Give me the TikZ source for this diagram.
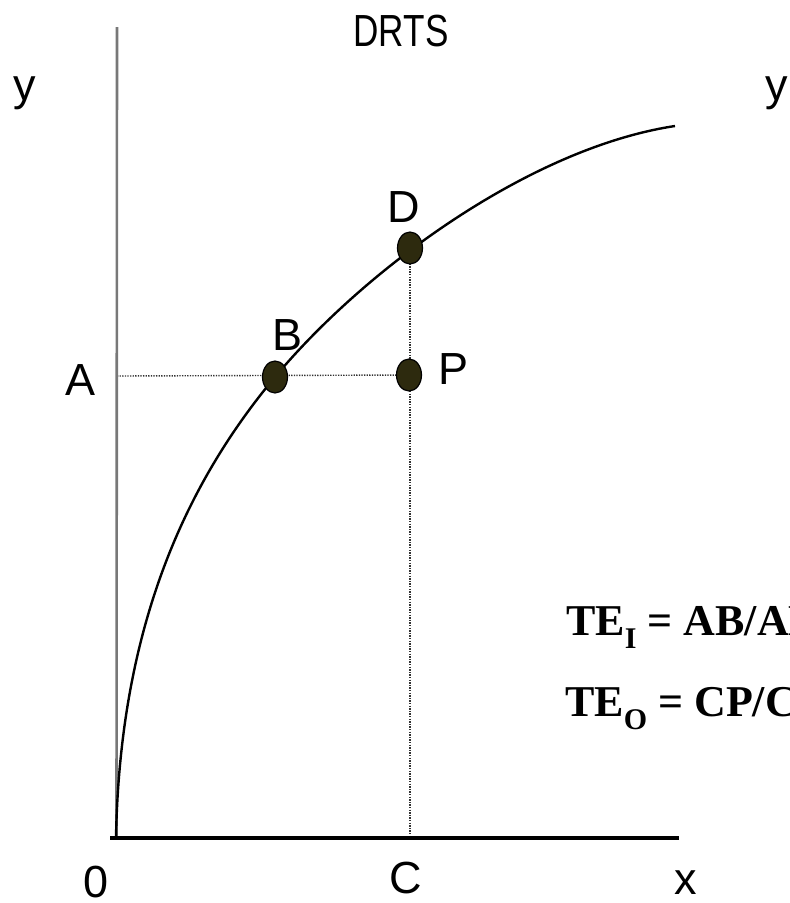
\documentclass[tikz,border=0pt]{standalone}
\usepackage{fontspec}
\setmainfont{Liberation Sans}
\newfontfamily\tefont{Liberation Serif}
\usetikzlibrary{shapes.geometric}
\definecolor{dotfill}{RGB}{45,42,14}
\definecolor{axisgray}{RGB}{120,120,120}
\begin{document}
\begin{tikzpicture}[x=1pt,y=-1pt,
  lbl/.style={font=\fontsize{45}{45}\selectfont, inner sep=0pt, anchor=base},
  tetext/.style={font=\tefont\bfseries\fontsize{44}{44}\selectfont, inner sep=0pt, anchor=base west},
  ptdot/.style={ellipse, draw=black, line width=1.2pt, fill=dotfill, minimum width=25pt, minimum height=32pt, inner sep=0pt},
  guide/.style={line width=1.4pt, dash pattern=on 1.3pt off 1.3pt, black!80},
  curve/.style={line width=2.4pt, black}]
\clip (0,0) rectangle (790,903);
\fill[white] (0,0) rectangle (790,903);
% positions
\coordinate (O) at (116.5,838);
\coordinate (ytop) at (117,27);
\coordinate (xend) at (679,838);
\coordinate (xstart) at (110,838);
\coordinate (Aax) at (117,376);
\coordinate (pB) at (275,377);
\coordinate (pP) at (409,375);
\coordinate (pD) at (410,248);
\coordinate (Cax) at (410,838);
\coordinate (cend) at (675,126);
% dotted guides
\draw[guide] (Aax) -- (pP);
\draw[guide] (pD) -- (Cax);
% axes
\draw[line width=2.6pt, axisgray] (ytop) -- (O);
\draw[line width=3.4pt, black] (xstart) -- (xend);
% curve
\draw[curve] (116,838) .. controls (120,620) and (190,479) .. (pB)
  .. controls (365,269) and (530,148) .. (cend);
% points
\node[ptdot] (B) at (pB) {};
\node[ptdot] (P) at (pP) {};
\node[ptdot] (D) at (pD) {};
% labels
\node[lbl] (ly1) at (25,100) {y};
\node[lbl] (ly2) at (777,100) {y};
\node[lbl] (title) at (401,46) {\scalebox{0.78}[1]{DRTS}};
\node[lbl] (lD) at (404,222) {D};
\node[lbl] (lB) at (288,350) {B};
\node[lbl, anchor=base west] (lP) at (438,384) {P};
\node[lbl] (lA) at (81,395) {A};
\node[lbl] (l0) at (96,897) {0};
\node[lbl] (lC) at (406,893) {C};
\node[lbl] (lx) at (686,894) {x};
\node[tetext] (te1) at (566,635) {TE\raisebox{-13pt}{\fontsize{30}{30}\selectfont I} = AB/AP};
\node[tetext] (te2) at (565,716) {TE\raisebox{-13pt}{\fontsize{30}{30}\selectfont O} = CP/CD};
\end{tikzpicture}
\end{document}
